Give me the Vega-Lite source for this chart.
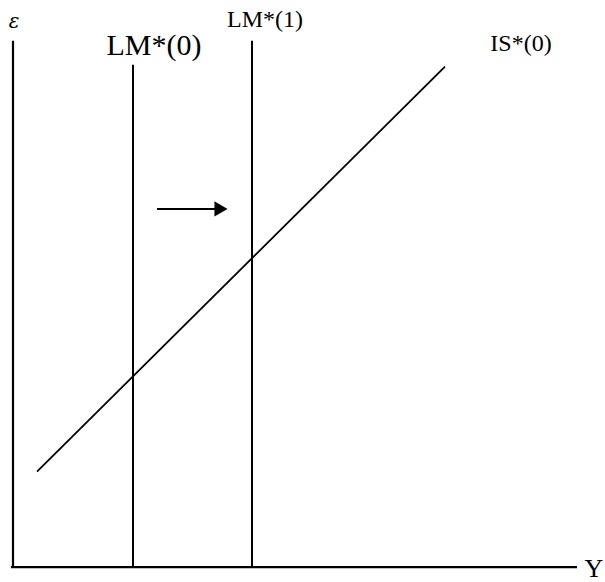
{
  "$schema": "https://vega.github.io/schema/vega-lite/v6.json",
  "width": 605,
  "height": 582,
  "padding": 0,
  "autosize": {"type": "fit", "contains": "padding"},
  "config": {"view": {"stroke": null}},
  "background": "white",
  "datasets": {
    "segments": [
      {"name": "epsilon axis", "x": 0, "y": 0, "x2": 0, "y2": 529, "w": 2.2},
      {"name": "Y axis", "x": -2, "y": 0, "x2": 564, "y2": 0, "w": 2.2},
      {"name": "LM*(0)", "x": 120, "y": 0, "x2": 120, "y2": 505, "w": 2},
      {"name": "LM*(1)", "x": 239, "y": 0, "x2": 239, "y2": 529, "w": 2},
      {"name": "IS*(0)", "x": 24, "y": 96, "x2": 432, "y2": 503, "w": 1.8},
      {"name": "shift arrow", "x": 144, "y": 360, "x2": 203, "y2": 360, "w": 2}
    ],
    "heads": [
      {"name": "shift arrow head", "x": 208, "y": 360}
    ],
    "labels": [
      {"text": "LM*(0)", "x": 141, "y": 524, "size": 30},
      {"text": "LM*(1)", "x": 252, "y": 550, "size": 24},
      {"text": "IS*(0)", "x": 508, "y": 526, "size": 24},
      {"text": "Y", "x": 581, "y": -2, "size": 26}
    ],
    "symbol": [
      {"text": "ε", "x": 1, "y": 548}
    ]
  },
  "layer": [
    {
      "data": {"name": "segments"},
      "mark": {"type": "rule", "color": "black"},
      "encoding": {
        "x": {"field": "x", "type": "quantitative", "scale": {"domain": [-13, 592], "nice": false, "zero": false}, "axis": null},
        "y": {"field": "y", "type": "quantitative", "scale": {"domain": [-12, 570], "nice": false, "zero": false}, "axis": null},
        "x2": {"field": "x2"},
        "y2": {"field": "y2"},
        "strokeWidth": {"field": "w", "type": "quantitative", "scale": null}
      }
    },
    {
      "data": {"name": "heads"},
      "mark": {"type": "point", "shape": "triangle-right", "filled": true, "color": "black", "size": 230, "opacity": 1},
      "encoding": {
        "x": {"field": "x", "type": "quantitative"},
        "y": {"field": "y", "type": "quantitative"}
      }
    },
    {
      "data": {"name": "labels"},
      "mark": {"type": "text", "font": "Liberation Serif", "color": "black", "align": "center", "baseline": "middle"},
      "encoding": {
        "x": {"field": "x", "type": "quantitative"},
        "y": {"field": "y", "type": "quantitative"},
        "text": {"field": "text"},
        "size": {"field": "size", "type": "quantitative", "scale": null}
      }
    },
    {
      "data": {"name": "symbol"},
      "mark": {"type": "text", "font": "DejaVu Serif", "fontStyle": "italic", "fontSize": 20, "color": "black", "align": "center", "baseline": "middle"},
      "encoding": {
        "x": {"field": "x", "type": "quantitative"},
        "y": {"field": "y", "type": "quantitative"},
        "text": {"field": "text"}
      }
    }
  ]
}
